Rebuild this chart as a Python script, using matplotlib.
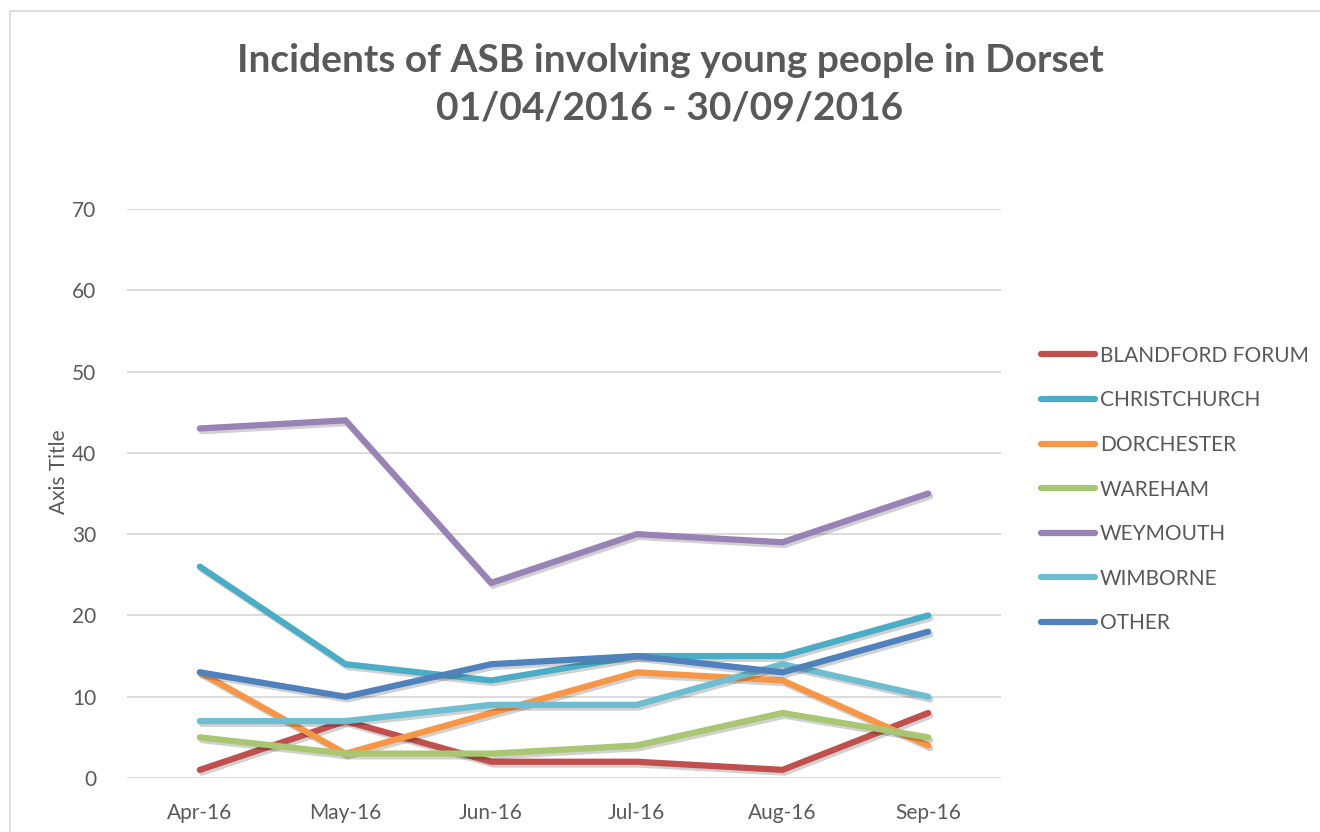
import matplotlib
matplotlib.use("Agg")
import matplotlib.pyplot as plt
import matplotlib.patheffects as pe
from matplotlib.patches import Rectangle

months = ["Apr-16", "May-16", "Jun-16", "Jul-16", "Aug-16", "Sep-16"]
series_names = ["BLANDFORD FORUM", "CHRISTCHURCH", "DORCHESTER", "WAREHAM",
                "WEYMOUTH", "WIMBORNE", "OTHER"]
blandford = [1, 7, 2, 2, 1, 8]
christchurch = [26, 14, 12, 15, 15, 20]
dorchester = [13, 3, 8, 13, 12, 4]
wareham = [5, 3, 3, 4, 8, 5]
weymouth = [43, 44, 24, 30, 29, 35]
wimborne = [7, 7, 9, 9, 14, 10]
other = [13, 10, 14, 15, 13, 18]
series_values = [blandford, christchurch, dorchester, wareham, weymouth, wimborne, other]
colors = ["#C0504D", "#4BACC6", "#F79646", "#A9C672", "#9983B6", "#6FBDD1", "#4F81BD"]
yticks = [0, 10, 20, 30, 40, 50, 60, 70]

plt.rcParams['font.family'] = ['Lato', 'DejaVu Sans']

fig = plt.figure(figsize=(13.2, 8.32), dpi=100)
ax = fig.add_axes([127/1320, 1-778/832, (1001-127)/1320, (778-209)/832])

x = list(range(len(months)))
for name, vals, c in zip(series_names, series_values, colors):
    ax.plot(x, vals, color=c, lw=4.5, solid_capstyle='round', solid_joinstyle='miter',
            label=name,
            path_effects=[pe.SimpleLineShadow(offset=(1.5, -2), shadow_color='black', alpha=0.18),
                          pe.Normal()])

ax.set_xlim(-0.5, 5.5)
ax.set_ylim(0, 70)
ax.set_yticks(yticks)
ax.set_xticks(x)
ax.set_xticklabels(months)
ax.grid(axis='y', color='#D9D9D9', lw=1.3)
ax.set_axisbelow(True)
for s in ax.spines.values():
    s.set_visible(False)
ax.tick_params(axis='both', length=0, labelsize=15, colors='#595959')
ax.tick_params(axis='y', pad=22)
ax.tick_params(axis='x', pad=18)
ax.set_ylabel("Axis Title", fontsize=15, color='#595959')
ax.yaxis.set_label_coords(-0.0665, 0.538)

fig.text(670/1320, 1-60/832, "Incidents of ASB involving young people in Dorset",
         ha='center', va='center', fontsize=28, fontweight='bold', color='#595959')
fig.text(670/1320, 1-108/832, "01/04/2016 - 30/09/2016",
         ha='center', va='center', fontsize=28, fontweight='bold', color='#595959')

leg = fig.legend(loc='upper left', bbox_to_anchor=(1022/1320, 1-327/832), frameon=False,
                 fontsize=15, labelcolor='#595959', handlelength=2.6, handletextpad=0.25,
                 labelspacing=1.18)
for h in leg.get_lines():
    h.set_linewidth(4.5)
    h.set_path_effects([])

fig.patches.append(Rectangle((10/1320, -0.1), 2, 1.1 - 11/832, transform=fig.transFigure,
                             fill=False, edgecolor='#D9D9D9', lw=1.2))

fig.savefig("out.png", dpi=100)
